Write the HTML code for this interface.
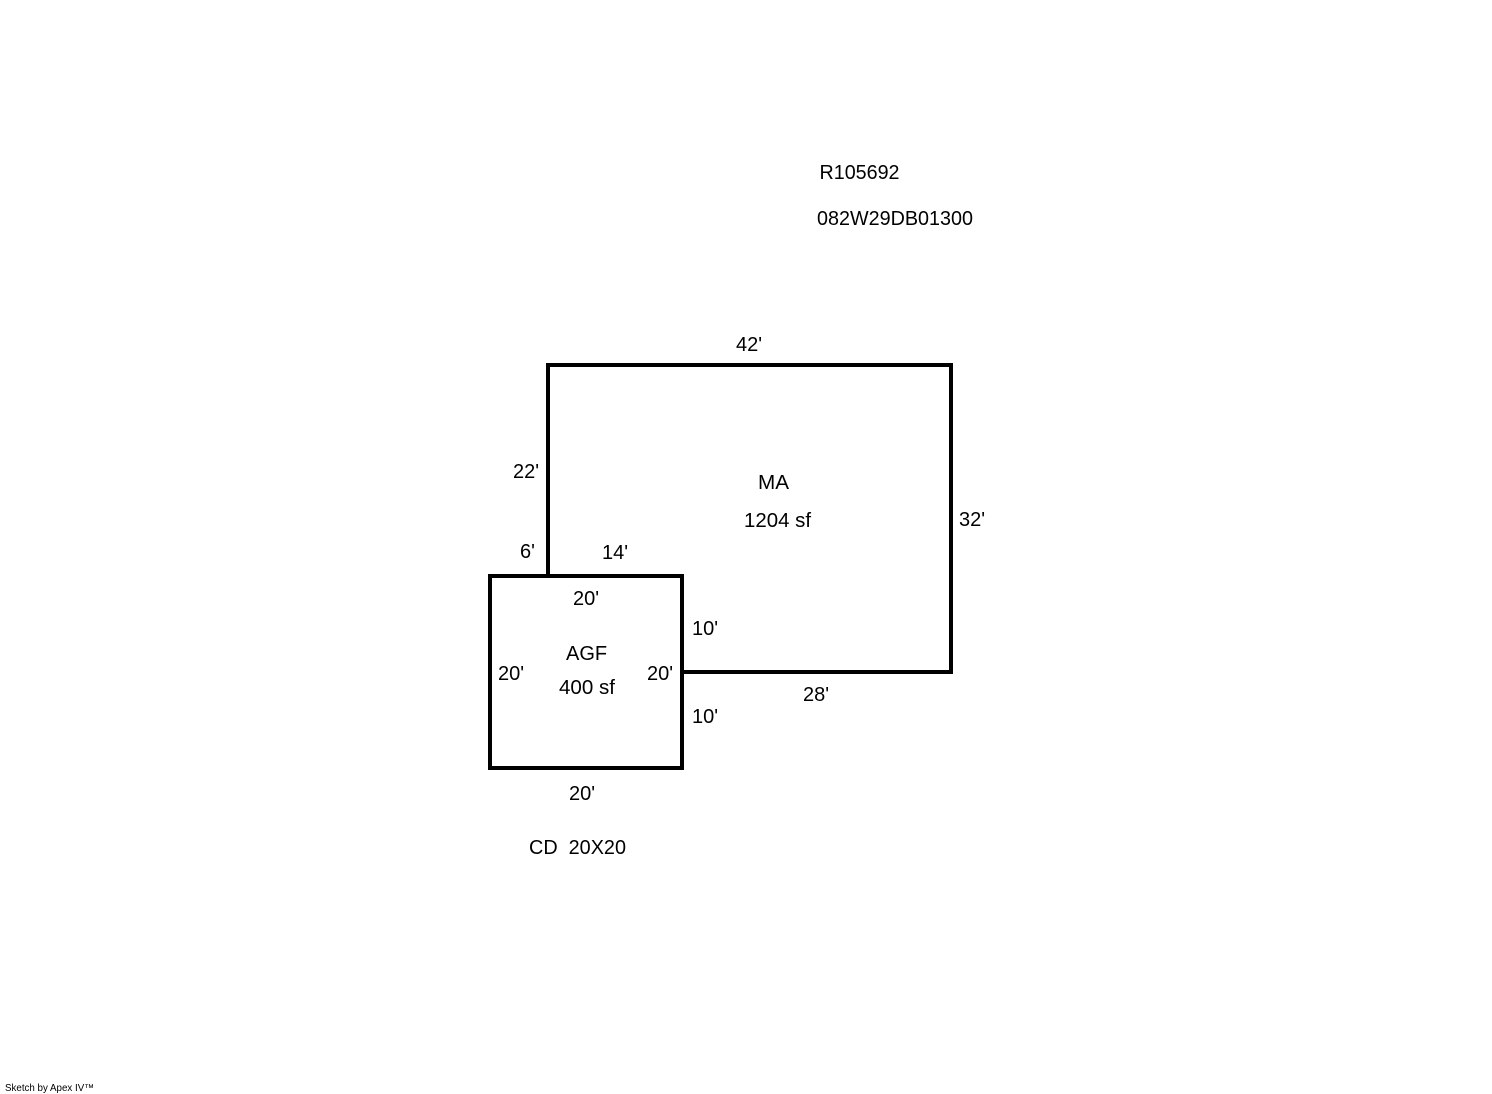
<!DOCTYPE html>
<html>
<head>
<meta charset="utf-8">
<style>
html,body{margin:0;padding:0;background:#fff;}
svg{display:block;}
text{font-family:"Liberation Sans",Arial,sans-serif;font-size:20px;fill:#000;}
</style>
</head>
<body>
<svg width="1492" height="1094" viewBox="0 0 1492 1094" xmlns="http://www.w3.org/2000/svg">
<rect width="1492" height="1094" fill="#fff"/>
<g fill="#000" shape-rendering="crispEdges">
<rect x="546" y="363" width="407" height="4"/>
<rect x="949" y="363" width="4" height="311"/>
<rect x="680" y="670" width="273" height="4"/>
<rect x="546" y="363" width="4" height="213"/>
<rect x="488" y="574" width="196" height="4"/>
<rect x="488" y="766" width="196" height="4"/>
<rect x="488" y="574" width="4" height="196"/>
<rect x="680" y="574" width="4" height="196"/>
</g>
<text x="819.5" y="179" textLength="80" lengthAdjust="spacingAndGlyphs">R105692</text>
<text x="817" y="225" textLength="156" lengthAdjust="spacingAndGlyphs">082W29DB01300</text>
<text x="736" y="351">42'</text>
<text x="513" y="478">22'</text>
<text x="959" y="526">32'</text>
<text x="758" y="489" textLength="31" lengthAdjust="spacingAndGlyphs">MA</text>
<text x="744" y="527" textLength="67" lengthAdjust="spacingAndGlyphs">1204 sf</text>
<text x="520" y="558">6'</text>
<text x="602" y="559">14'</text>
<text x="573" y="605">20'</text>
<text x="692" y="635">10'</text>
<text x="566" y="660">AGF</text>
<text x="559" y="694" textLength="56" lengthAdjust="spacingAndGlyphs">400 sf</text>
<text x="498" y="680">20'</text>
<text x="647" y="680">20'</text>
<text x="803" y="701">28'</text>
<text x="692" y="723">10'</text>
<text x="569" y="800">20'</text>
<text x="529" y="854" xml:space="preserve" textLength="97" lengthAdjust="spacingAndGlyphs">CD  20X20</text>
<text x="5" y="1091" style="font-size:10px" textLength="89" lengthAdjust="spacingAndGlyphs">Sketch by Apex IV™</text>
</svg>
</body>
</html>
